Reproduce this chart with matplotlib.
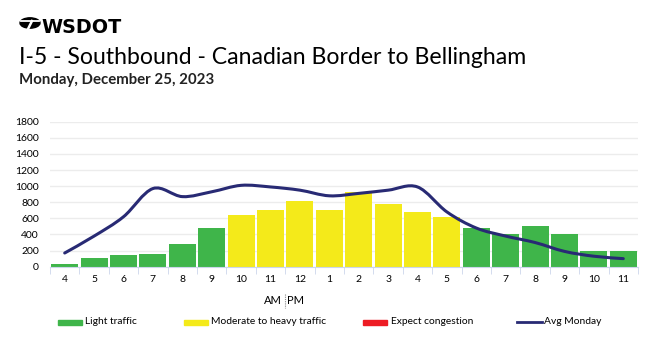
import numpy as np
import matplotlib
matplotlib.use("Agg")
import matplotlib.pyplot as plt
from matplotlib.path import Path
from matplotlib.patches import PathPatch, Circle, Rectangle
from matplotlib.lines import Line2D

plt.rcParams["font.family"] = ["Lato", "DejaVu Sans"]

hours = ["4", "5", "6", "7", "8", "9", "10", "11", "12", "1", "2", "3",
         "4", "5", "6", "7", "8", "9", "10", "11"]
volume = [30, 110, 140, 160, 280, 480, 640, 710, 820, 710, 930, 780,
          680, 620, 480, 410, 500, 410, 200, 200]
level = ["light"] * 6 + ["moderate"] * 8 + ["light"] * 6
avg_monday = [170, 380, 620, 970, 870, 930, 1010, 990, 950, 880, 910, 950,
              990, 680, 480, 380, 300, 190, 130, 100]

colors = {"light": "#3fb54a", "moderate": "#f4ea1a", "heavy": "#ed1c24"}
line_color = "#282a74"

W, H = 650, 337
fig = plt.figure(figsize=(W / 100, H / 100), dpi=100)

# header / logo
fig.patches.append(Circle((30 / W, 1 - 23 / H), 10 / W, transform=fig.transFigure,
                          color="black"))
fig.add_artist(Line2D([21 / W, 39 / W], [1 - 21 / H, 1 - 21 / H],
                      transform=fig.transFigure, color="white", lw=1.3))
fig.add_artist(Line2D([32 / W, 26 / W], [1 - 21 / H, 1 - 33 / H],
                      transform=fig.transFigure, color="white", lw=1.8))
fig.text(41 / W, 1 - 27.5 / H, "WSDOT", fontsize=13.8, fontweight="heavy",
         family="DejaVu Sans", va="center", ha="left")
fig.text(19 / W, 1 - 57 / H, "I-5 - Southbound - Canadian Border to Bellingham",
         fontsize=16.6, va="center", ha="left")
fig.text(19 / W, 1 - 80 / H, "Monday, December 25, 2023", fontsize=10.8,
         fontweight="bold", va="center", ha="left", color="#222222")

ax = fig.add_axes([50 / W, (H - 266.7) / H, 588 / W, 145 / H])
x = np.arange(len(hours))
ax.bar(x, volume, width=0.92, color=[colors[l] for l in level], zorder=2)

# smooth avg line (cubic bezier through each point)
pts = np.column_stack([x, avg_monday]).astype(float)
verts = [tuple(pts[0])]
codes = [Path.MOVETO]
for i in range(len(pts) - 1):
    p0 = pts[max(i - 1, 0)]
    p1 = pts[i]
    p2 = pts[i + 1]
    p3 = pts[min(i + 2, len(pts) - 1)]
    c1 = p1 + (p2 - p0) / 6
    c2 = p2 - (p3 - p1) / 6
    verts += [tuple(c1), tuple(c2), tuple(p2)]
    codes += [Path.CURVE4] * 3
ax.add_patch(PathPatch(Path(verts, codes), fill=False, edgecolor=line_color,
                       lw=2.2, zorder=3, capstyle="round"))

ax.set_xlim(-0.5, len(hours) - 0.5)
ax.set_ylim(0, 1800)
ax.set_yticks(range(0, 1801, 200))
ax.grid(axis="y", color="#ececec", lw=1, zorder=0)
ax.set_xticks(x)
ax.set_xticklabels(hours)
ax.set_xticks(np.arange(-0.5, len(hours), 1), minor=True)
ax.tick_params(axis="x", which="major", length=0, pad=6, labelsize=7.5)
ax.tick_params(axis="x", which="minor", length=5, color="#ccd6eb")
ax.tick_params(axis="y", length=0, pad=8, labelsize=7.5)
for s in ["top", "right", "left"]:
    ax.spines[s].set_visible(False)
ax.spines["bottom"].set_color("#ccd6eb")

# AM | PM
fig.text(282 / W, 1 - 301 / H, "AM", fontsize=8, ha="right", va="center")
fig.text(287 / W, 1 - 301 / H, "PM", fontsize=8, ha="left", va="center")
fig.add_artist(Line2D([284.5 / W, 284.5 / W], [1 - 294 / H, 1 - 308 / H],
                      transform=fig.transFigure, color="#888888", lw=0.8,
                      ls=(0, (1, 1))))

# legend
legend_items = [("Light traffic", colors["light"], 58, 85, "patch"),
                ("Moderate to heavy traffic", colors["moderate"], 184, 211, "patch"),
                ("Expect congestion", colors["heavy"], 363, 391, "patch"),
                ("Avg Monday", line_color, 517, 544, "line")]
ly = 1 - 322 / H
for label, c, px, tx, kind in legend_items:
    if kind == "patch":
        fig.patches.append(Rectangle((px / W, ly - 2.5 / H), 24 / W, 5 / H,
                                     transform=fig.transFigure, color=c))
    else:
        fig.add_artist(Line2D([px / W, (px + 25) / W], [ly, ly],
                              transform=fig.transFigure, color=c, lw=2))
    fig.text(tx / W, ly, label, fontsize=7.4, ha="left", va="center")

fig.savefig("out.png", dpi=100)
